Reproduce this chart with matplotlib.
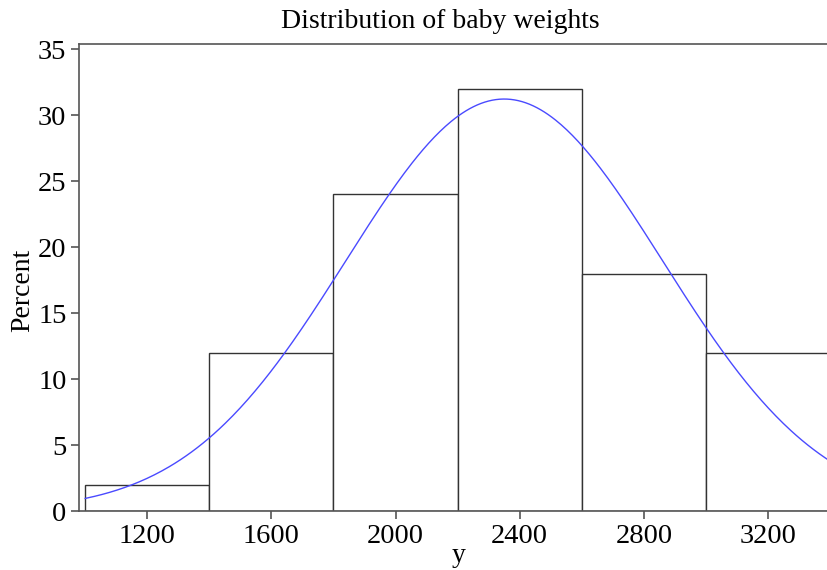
import numpy as np
import matplotlib.pyplot as plt

# ===== histogram data (percent per bin) =====
bin_edges = [1000, 1400, 1800, 2200, 2600, 3000, 3400]
percents = [2, 12, 24, 32, 18, 12]

# ===== fitted normal curve parameters =====
mu = 2350
sigma = 511

x_ticks = [1200, 1600, 2000, 2400, 2800, 3200]
y_ticks = [0, 5, 10, 15, 20, 25, 30, 35]

plt.rcParams['font.family'] = ['Liberation Serif', 'DejaVu Serif']

fig = plt.figure(figsize=(8.27, 5.70), dpi=100)
ax = fig.add_axes([0.0955, 0.1035, 0.9045, 0.8193])

widths = np.diff(bin_edges)
ax.bar(bin_edges[:-1], percents, width=widths, align='edge',
       facecolor='white', edgecolor='#333333', linewidth=1.0)

# normal density scaled to percent per bin
xs = np.linspace(bin_edges[0], bin_edges[-1], 400)
bw = widths[0]
ys = 100 * bw / (sigma * np.sqrt(2 * np.pi)) * np.exp(-0.5 * ((xs - mu) / sigma) ** 2)
ax.plot(xs, ys, color='#4a4aff', linewidth=1.0)

ax.set_xlim(980, 3390)
ax.set_ylim(0, 35.4)
ax.set_xticks(x_ticks)
ax.set_yticks(y_ticks)

for s in ['left', 'bottom', 'top']:
    ax.spines[s].set_color('#555555')
    ax.spines[s].set_linewidth(1.2)
ax.spines['right'].set_visible(False)
ax.tick_params(axis='both', labelsize=20.5, color='#555555', length=6, width=1.2,
               direction='out', pad=3)

fig.text(0.533, 0.962, "Distribution of baby weights", ha='center', va='center', fontsize=20)
fig.text(0.554, 0.025, "y", ha='center', va='center', fontsize=20)
fig.text(0.027, 0.49, "Percent", ha='center', va='center', fontsize=20, rotation=90)

fig.savefig('out.png', dpi=100)
